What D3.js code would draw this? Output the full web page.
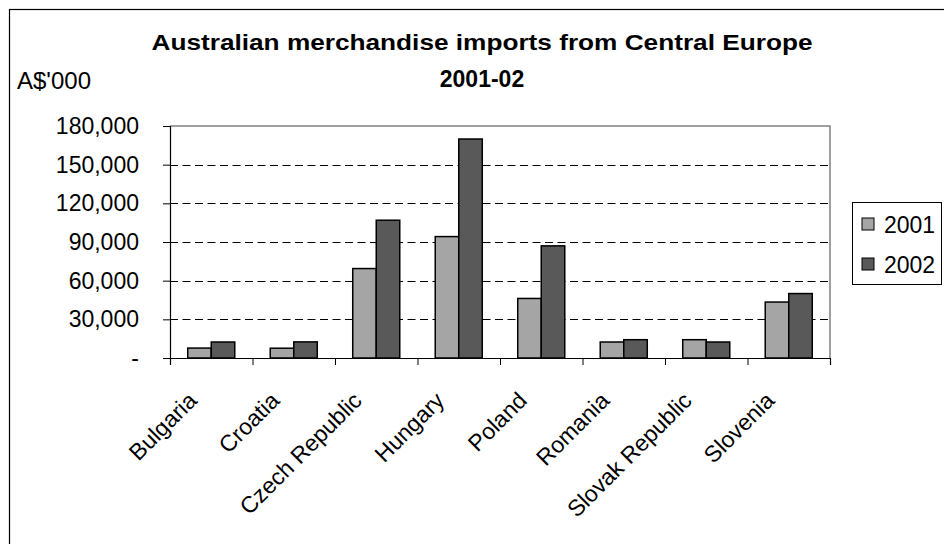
<!DOCTYPE html>
<html>
<head>
<meta charset="utf-8">
<script src="https://cdn.jsdelivr.net/npm/d3@7/dist/d3.min.js"></script>
<style>
  body { margin: 0; background: #fff; }
  text { font-family: Arial, "Liberation Sans", sans-serif; fill: #000; }
</style>
</head>
<body>
<svg id="chart" width="944" height="544"></svg>
<script>
const countries = ['Bulgaria', 'Croatia', 'Czech Republic', 'Hungary', 'Poland', 'Romania', 'Slovak Republic', 'Slovenia'];
const years = ['2001', '2002'];
const imports2001 = [7700, 7600, 69400, 94200, 46200, 12400, 14200, 43400];
const imports2002 = [12400, 12500, 106900, 169900, 87000, 14200, 12400, 50000];
const yTicks = [0, 30000, 60000, 90000, 120000, 150000, 180000];
const yearColors = ['#a5a5a5', '#595959'];

const svg = d3.select('#chart');
const plot = { left: 170, right: 830, top: 126, bottom: 358 };

// outer chart frame (runs off the picture on the right and bottom)
svg.append('rect')
  .attr('x', 9.5).attr('y', 9.5).attr('width', 960).attr('height', 560)
  .attr('fill', 'none').attr('stroke', '#000').attr('stroke-width', 1.2);

const x = d3.scaleBand().domain(countries)
  .range([plot.left, plot.right]).paddingInner(0.43).paddingOuter(0.215);
const xYear = d3.scaleBand().domain(years).range([0, x.bandwidth()]);
const xEdge = d3.scaleLinear().domain([0, countries.length]).range([plot.left, plot.right]);
const y = d3.scaleLinear().domain([0, 180000]).range([plot.bottom, plot.top]);

// gridlines
svg.append('g').selectAll('line')
  .data(yTicks.filter(d => d > 0 && d < 180000))
  .join('line')
  .attr('x1', plot.left).attr('x2', plot.right)
  .attr('y1', d => Math.round(y(d)) + 0.5).attr('y2', d => Math.round(y(d)) + 0.5)
  .attr('stroke', '#000').attr('stroke-width', 1).attr('stroke-dasharray', '8,4.5');

// plot area top / right border
svg.append('path')
  .attr('d', `M${plot.left},${plot.top}H${plot.right}V${plot.bottom}`)
  .attr('fill', 'none').attr('stroke', '#808080').attr('stroke-width', 1.5);

// bars
const rows = countries.map((c, i) => ({ country: c, values: [imports2001[i], imports2002[i]] }));
svg.append('g').selectAll('g')
  .data(rows)
  .join('g')
  .attr('transform', d => `translate(${x(d.country)},0)`)
  .selectAll('rect')
  .data(d => d.values.map((v, j) => ({ year: years[j], value: v, color: yearColors[j] })))
  .join('rect')
  .attr('x', d => xYear(d.year))
  .attr('width', xYear.bandwidth())
  .attr('y', d => y(d.value))
  .attr('height', d => y(0) - y(d.value))
  .attr('fill', d => d.color)
  .attr('stroke', '#000').attr('stroke-width', 1.5);

// y axis
const yAxis = svg.append('g')
  .attr('transform', `translate(${plot.left},0)`)
  .call(d3.axisLeft(y).tickValues(yTicks).tickSize(7).tickPadding(24)
    .tickFormat(d => d === 0 ? '-' : d3.format(',')(d)));
yAxis.select('.domain').attr('stroke', '#000').attr('stroke-width', 1.2);
yAxis.selectAll('.tick line').attr('stroke', '#000');
yAxis.selectAll('.tick text').attr('font-size', 23).attr('fill', '#000');

// x axis: ticks between categories
const xAxis = svg.append('g')
  .attr('transform', `translate(0,${plot.bottom})`)
  .call(d3.axisBottom(xEdge).tickValues(d3.range(countries.length + 1)).tickSize(7).tickFormat(''));
xAxis.select('.domain').attr('stroke', '#000').attr('stroke-width', 1.2);
xAxis.selectAll('.tick line').attr('stroke', '#000');

svg.append('g').selectAll('text')
  .data(countries)
  .join('text')
  .attr('transform', d => `translate(${x(d) + x.bandwidth() / 2 - 13},${plot.bottom + 44}) rotate(-45)`)
  .attr('text-anchor', 'end')
  .attr('font-size', 23)
  .text(d => d);

// titles
svg.append('text')
  .attr('x', 482).attr('y', 50).attr('text-anchor', 'middle')
  .attr('font-size', 22).attr('font-weight', 'bold')
  .attr('textLength', 661).attr('lengthAdjust', 'spacingAndGlyphs')
  .text('Australian merchandise imports from Central Europe');
svg.append('text')
  .attr('x', 482).attr('y', 87).attr('text-anchor', 'middle')
  .attr('font-size', 23).attr('font-weight', 'bold')
  .text('2001-02');
svg.append('text')
  .attr('x', 17).attr('y', 89)
  .attr('font-size', 24)
  .text("A$'000");

// legend
const legend = svg.append('g');
legend.append('rect')
  .attr('x', 852.5).attr('y', 202.5).attr('width', 89).attr('height', 82)
  .attr('fill', '#fff').attr('stroke', '#000').attr('stroke-width', 1);
const legendY = d3.scalePoint().domain(years).range([224, 264]);
const items = legend.selectAll('g')
  .data(years)
  .join('g')
  .attr('transform', d => `translate(0,${legendY(d)})`);
items.append('rect')
  .attr('x', 862).attr('y', -6).attr('width', 12).attr('height', 12)
  .attr('fill', (d, i) => yearColors[i]).attr('stroke', '#000').attr('stroke-width', 1);
items.append('text')
  .attr('x', 884).attr('y', 9)
  .attr('font-size', 23)
  .text(d => d);
</script>
</body>
</html>
